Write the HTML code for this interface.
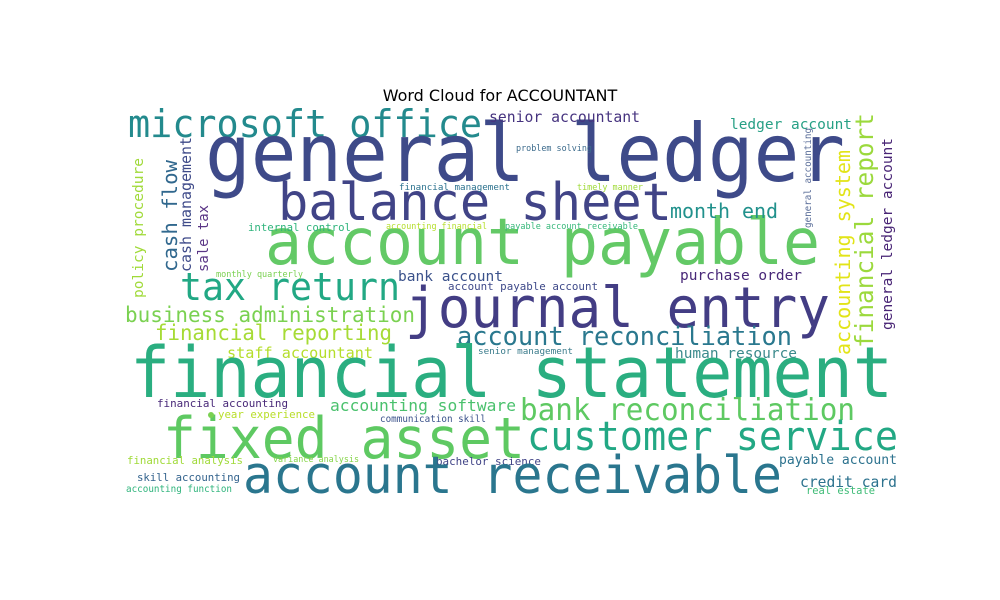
<!DOCTYPE html>
<html><head><meta charset="utf-8"><style>
html,body{margin:0;padding:0;background:#fff;}
svg{display:block;}
.w{font-family:"DejaVu Sans Mono","Liberation Mono",monospace;}
</style></head><body>
<svg width="1000" height="600" viewBox="0 0 1000 600">
<rect width="1000" height="600" fill="#fff"/>
<text x="500" y="101" text-anchor="middle" font-family="DejaVu Sans, Liberation Sans, sans-serif" font-size="16" fill="#000">Word Cloud for ACCOUNTANT</text>
<g id="words" class="w"></g>
<circle cx="211" cy="415" r="3" fill="#7ad151"/>
</svg>
<script>
// horizontal words: text, left x, right x, baseline y, font size, color
const hWords = [
["microsoft office",128,482,137,38,"#238a8d"],
["general ledger",205,845,181,80,"#3e4a89"],
["balance sheet",278,672,220,52,"#414487"],
["account payable",265,820,264,64,"#63c966"],
["tax return",180,400,300,38,"#22a884"],
["journal entry",405,830,327,56,"#433d84"],
["business administration",125,415,322,21,"#7ad151"],
["financial reporting",155,392,340,21,"#a6db35"],
["account reconciliation",457,792,345,26,"#2a788e"],
["staff accountant",227,373,358,15,"#b5de2b"],
["senior management",478,573,354,9,"#3b7c8c"],
["human resource",675,797,358,14.5,"#3b8a8c"],
["financial statement",130,893,397,70,"#2aae80"],
["bank reconciliation",520,855,420,30,"#5ec962"],
["accounting software",330,516,411,16,"#4ac16d"],
["financial accounting",157,288,407,11,"#482878"],
["year experience",218,315,418,11,"#b8de29"],
["communication skill",380,486,422,9.3,"#3b528b"],
["fixed asset",163,525,458,57,"#5ec962"],
["customer service",527,898,450,40,"#22a884"],
["financial analysis",127,243,464,10.7,"#a0da39"],
["variance analysis",273,359,462,8.4,"#86d549"],
["bachelor science",436,541,465,11,"#414487"],
["payable account",779,897,464,13,"#2c728e"],
["account receivable",243,782,493,52,"#2a768e"],
["skill accounting",137,240,481,10.7,"#33638d"],
["accounting function",126,232,492,9.3,"#2fb47c"],
["credit card",800,897,487,14.7,"#2c728e"],
["real estate",806,875,494,10.5,"#3cbb75"],
["senior accountant",489,640,122,14.8,"#46337f"],
["ledger account",730,852,129,14.5,"#27a085"],
["problem solving",516,592,151,8.4,"#3b6a8b"],
["financial management",399,510,190,9.2,"#2c728e"],
["timely manner",577,643,190,8.5,"#a0da39"],
["month end",670,778,218,20,"#21918c"],
["internal control",248,351,231,10.7,"#2fb47c"],
["accounting financial",386,487,229,8.4,"#b5de2b"],
["payable account receivable",505,638,229,8.5,"#35b779"],
["monthly quarterly",216,303,277,8.5,"#7ad151"],
["bank account",398,503,281,14.6,"#3b528b"],
["account payable account",448,598,290,10.9,"#3e4989"],
["purchase order",680,802,280,14.5,"#482878"]
];
// vertical words (reading upward): text, baseline x, bottom y, top y, font size, color
const vWords = [
["policy procedure",143,298,158,14.6,"#a0da39"],
["cash flow",177,272,160,20.7,"#31688e"],
["cash management",191,272,137,15,"#3e4a89"],
["sale tax",208,272,205,14,"#5a3586"],
["accounting system",850,355,150,20,"#e2e418"],
["financial report",873,348,113,24.5,"#9bd93c"],
["general accounting",811,228,128,9.3,"#5c6f9a"],
["general ledger account",892,330,138,14.6,"#482475"]
];
const NS = "http://www.w3.org/2000/svg";
const g = document.getElementById("words");
function slug(s){return s.replace(/\s+/g,"-");}
hWords.forEach(w => {
  const t = document.createElementNS(NS,"text");
  t.setAttribute("x", w[1]);
  t.setAttribute("y", w[3]);
  t.setAttribute("font-size", w[4]);
  t.setAttribute("fill", w[5]);
  t.setAttribute("textLength", w[2]-w[1]);
  t.setAttribute("lengthAdjust","spacingAndGlyphs");
  
  
  t.textContent = w[0];
  g.appendChild(t);
});
vWords.forEach(w => {
  const t = document.createElementNS(NS,"text");
  t.setAttribute("transform", "translate(" + w[1] + "," + w[2] + ") rotate(-90)");
  t.setAttribute("x", 0);
  t.setAttribute("y", 0);
  t.setAttribute("font-size", w[4]);
  t.setAttribute("fill", w[5]);
  t.setAttribute("textLength", w[2]-w[3]);
  t.setAttribute("lengthAdjust","spacingAndGlyphs");
  
  
  t.textContent = w[0];
  g.appendChild(t);
});
</script>
</body></html>
